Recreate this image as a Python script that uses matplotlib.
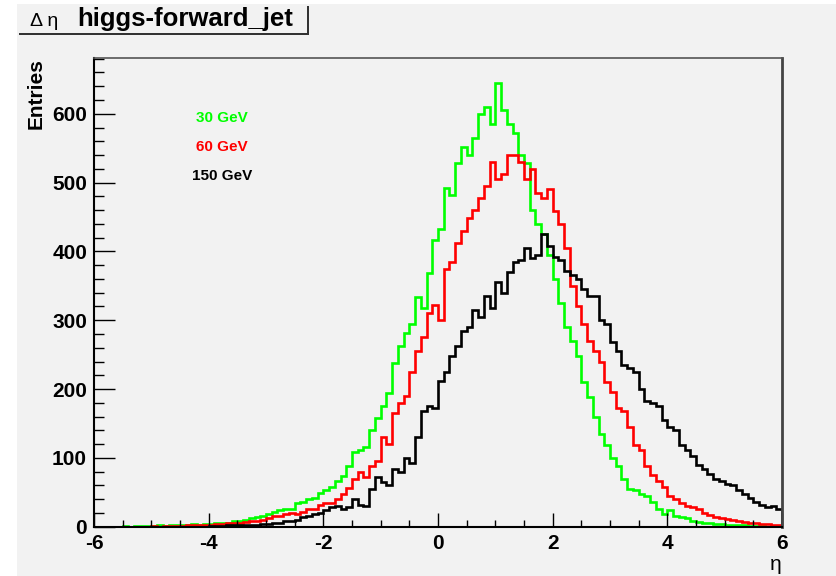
import matplotlib
matplotlib.use("Agg")
import matplotlib.pyplot as plt
from matplotlib.patches import Rectangle
from matplotlib.ticker import MultipleLocator
import numpy as np

plt.rcParams['font.family'] = ['Liberation Sans', 'DejaVu Sans']
plt.rcParams['axes.unicode_minus'] = False

bin_width = 0.1

# 30 GeV, first bin starts at -5.5
green_start = -5.5
green_counts = [1, 0, 1, 1, 1, 1, 2, 1, 2, 2,
                3, 3, 4, 3, 4, 4, 5, 6, 6, 8,
                9, 10, 12, 14, 16, 18, 22, 24, 26, 25,
                34, 36, 40, 42, 49, 54, 58, 66, 74, 88,
                108, 112, 116, 140, 158, 175, 194, 238, 262, 282,
                295, 334, 318, 368, 416, 432, 492, 482, 528, 552,
                540, 565, 600, 610, 585, 645, 605, 585, 572, 540,
                528, 460, 440, 425, 395, 360, 325, 290, 270, 248,
                210, 188, 160, 135, 118, 100, 88, 70, 55, 54,
                48, 44, 36, 26, 18, 24, 16, 14, 12, 9,
                7, 6, 5, 4, 4, 3, 3, 2, 2, 1,
                1, 1]

# 60 GeV, first bin starts at -5.0
red_start = -5.0
red_counts = [1, 0, 1, 1, 1, 1, 2, 2, 2, 3,
              3, 4, 4, 5, 5, 6, 7, 8, 9, 10,
              13, 15, 16, 18, 20, 19, 22, 26, 25, 32,
              35, 34, 40, 48, 56, 70, 80, 72, 88, 95,
              130, 120, 165, 180, 190, 225, 255, 275, 310, 322,
              300, 375, 385, 412, 430, 448, 460, 478, 495, 530,
              505, 512, 540, 540, 530, 505, 520, 485, 478, 490,
              458, 440, 405, 350, 320, 295, 270, 255, 240, 210,
              195, 172, 168, 145, 118, 112, 88, 75, 66, 58,
              45, 40, 35, 30, 28, 25, 20, 17, 14, 12,
              11, 10, 8, 7, 6, 5, 4, 4, 3, 2]

# 150 GeV, first bin starts at -4.0
black_start = -4.0
black_counts = [1, 1, 1, 2, 2, 2, 3, 3, 3, 4,
                4, 5, 6, 8, 8, 10, 14, 15, 18, 20,
                24, 28, 30, 26, 28, 40, 32, 30, 55, 72,
                65, 60, 84, 80, 100, 92, 130, 168, 175, 172,
                212, 225, 248, 262, 285, 290, 315, 305, 335, 318,
                355, 340, 370, 385, 388, 405, 390, 395, 425, 408,
                392, 388, 372, 365, 360, 345, 335, 335, 300, 295,
                268, 255, 235, 230, 225, 200, 182, 180, 176, 155,
                145, 140, 118, 112, 102, 90, 84, 76, 70, 66,
                62, 60, 54, 48, 42, 36, 32, 28, 30, 26]

labels = ["30 GeV", "60 GeV", "150 GeV"]
colors = ["#00ff00", "#ff0000", "#000000"]
title = "higgs-forward_jet"

W, H = 836, 576
fig = plt.figure(figsize=(W / 100, H / 100), dpi=100)
fig.patch.set_facecolor("white")

def px(x, y):
	return x / W, 1 - y / H

# pad background, drawn below everything
fig.patches.append(Rectangle(px(17, H), (W - 17) / W, (H - 4) / H,
	transform=fig.transFigure, facecolor="#f2f2f2", edgecolor="none", zorder=-10))

ax = fig.add_axes([94 / W, 49.3 / H, 688 / W, 468.7 / H])
ax.set_facecolor("#f2f2f2")

series = [(green_start, green_counts), (red_start, red_counts), (black_start, black_counts)]
for (start, counts), col in zip(series, colors):
	counts = np.array(counts, dtype=float)
	edges = start + bin_width * np.arange(len(counts) + 1)
	ax.stairs(counts, edges, color=col, lw=1.9)

ax.set_xlim(-6, 6)
ax.set_ylim(0, 681)
ax.xaxis.set_major_locator(MultipleLocator(2))
ax.xaxis.set_minor_locator(MultipleLocator(0.5))
ax.yaxis.set_major_locator(MultipleLocator(100))
ax.yaxis.set_minor_locator(MultipleLocator(20))

ax.tick_params(axis="x", which="major", direction="in", length=10, width=1, pad=5, labelsize=15)
ax.tick_params(axis="x", which="minor", direction="in", length=5, width=1)
ax.tick_params(axis="y", which="major", direction="in", length=15, width=1, pad=5, labelsize=15)
ax.tick_params(axis="y", which="minor", direction="in", length=7.5, width=1)
for lab in ax.get_xticklabels() + ax.get_yticklabels():
	lab.set_fontweight("bold")

for side in ["left", "bottom"]:
	ax.spines[side].set_color("black")
	ax.spines[side].set_linewidth(1.5)
ax.spines["top"].set_color("#555555")
ax.spines["top"].set_linewidth(1.2)
ax.spines["right"].set_color("#444444")
ax.spines["right"].set_linewidth(2)

ax.set_ylabel("Entries", loc="top", fontsize=15, fontweight="bold")
ax.yaxis.set_label_coords(-0.071, 1.0)
ax.set_xlabel("η", loc="right", fontsize=15)
ax.xaxis.set_label_coords(1.0, -0.092)
ax.xaxis.label.set_verticalalignment("baseline")

for i, (lab, col) in enumerate(zip(labels, colors)):
	ax.text(0.186, 0.872 - 0.0615 * i, lab, transform=ax.transAxes, color=col,
		fontsize=11, fontweight="bold", ha="center", va="center")

# title box with shadow
fig.patches.append(Rectangle(px(19, 35), 290 / W, 29 / H, transform=fig.transFigure,
	facecolor="#333333", edgecolor="none", zorder=1))
fig.patches.append(Rectangle(px(17, 33), 290 / W, 29 / H, transform=fig.transFigure,
	facecolor="#f2f2f2", edgecolor="none", zorder=2))
fig.text(*px(30, 26), "Δ η", fontsize=14, ha="left", va="baseline", zorder=3)
fig.text(*px(77, 26), title, fontsize=18.5, fontweight="bold", ha="left", va="baseline", zorder=3)

fig.savefig("out.png", dpi=100, facecolor=fig.get_facecolor())
